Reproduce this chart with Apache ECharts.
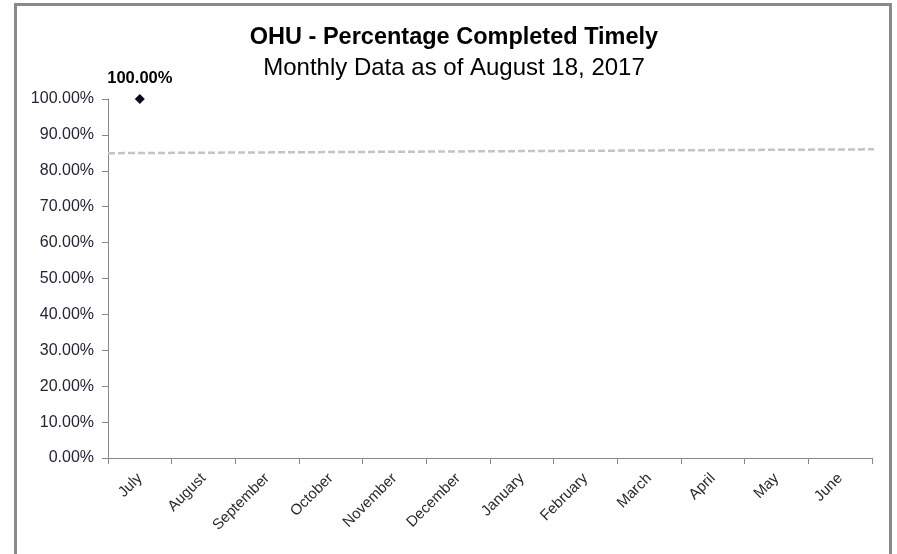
<!DOCTYPE html>
<html>
<head>
<meta charset="utf-8">
<script src="https://cdn.jsdelivr.net/npm/echarts@6/dist/echarts.min.js"></script>
<style>
  html, body { margin: 0; padding: 0; background: #fff; }
  #chart { width: 897px; height: 554px; }
</style>
</head>
<body>
<div id="chart"></div>
<script>
const months = ['July', 'August', 'September', 'October', 'November', 'December',
  'January', 'February', 'March', 'April', 'May', 'June']
const completedPct = [100, null, null, null, null, null, null, null, null, null, null, null]
// linear trend line (Excel style, runs past the last category)
const trendX = [-0.5, 11.67]
const trendY = [84.9, 86.0]
const yTicks = [0, 10, 20, 30, 40, 50, 60, 70, 80, 90, 100]

const chart = echarts.init(document.getElementById('chart'))

const option = {
  animation: false,
  textStyle: { fontFamily: 'Liberation Sans, Arial, sans-serif' },
  title: {
    text: 'OHU - Percentage Completed Timely',
    subtext: 'Monthly Data as of August 18, 2017',
    left: 449,
    top: 21,
    textAlign: 'center',
    itemGap: 6,
    textStyle: { fontSize: 23.5, fontWeight: 'bold', color: '#000' },
    subtextStyle: { fontSize: 24, color: '#000' },
  },
  grid: { left: 108, right: 25, top: 99, bottom: 96 },
  xAxis: [
    {
      type: 'category',
      data: months,
      boundaryGap: true,
      axisLine: { lineStyle: { color: '#888', width: 1 } },
      axisTick: { show: true, length: 6, lineStyle: { color: '#888' } },
      axisLabel: { rotate: 45, fontSize: 15, color: '#2a2a2a', margin: 18, interval: 0 },
    },
    {
      type: 'value',
      min: -0.5,
      max: 11.5,
      show: false,
    },
  ],
  yAxis: {
    type: 'value',
    min: yTicks[0],
    max: yTicks[yTicks.length - 1],
    interval: 10,
    axisLine: { show: true, onZero: false, lineStyle: { color: '#888', width: 1 } },
    axisTick: { show: true, length: 6, lineStyle: { color: '#888' } },
    splitLine: { show: false },
    axisLabel: {
      fontSize: 16,
      color: '#23233d',
      margin: 14,
      formatter: v => v.toFixed(2) + '%',
    },
  },
  graphic: [
    {
      type: 'rect',
      shape: { x: 15.5, y: 4.5, width: 875, height: 600 },
      style: { fill: 'none', stroke: '#8a8a8a', lineWidth: 3 },
      silent: true,
    },
  ],
  series: [
    {
      name: 'Trend',
      type: 'line',
      xAxisIndex: 1,
      data: trendX.map((x, i) => [x, trendY[i]]),
      symbol: 'none',
      clip: false,
      lineStyle: { color: '#c4c4c4', width: 2.5, type: [7, 3] },
      z: 1,
    },
    {
      name: 'Percentage Completed Timely',
      type: 'line',
      data: completedPct,
      symbol: 'diamond',
      symbolSize: 10,
      itemStyle: { color: '#0a0a1e' },
      lineStyle: { width: 0 },
      label: {
        show: true,
        position: 'top',
        distance: 7,
        fontSize: 16.5,
        fontWeight: 'bold',
        color: '#000',
        formatter: p => p.value.toFixed(2) + '%',
      },
      z: 3,
    },
  ],
}

chart.setOption(option)
</script>
</body>
</html>
